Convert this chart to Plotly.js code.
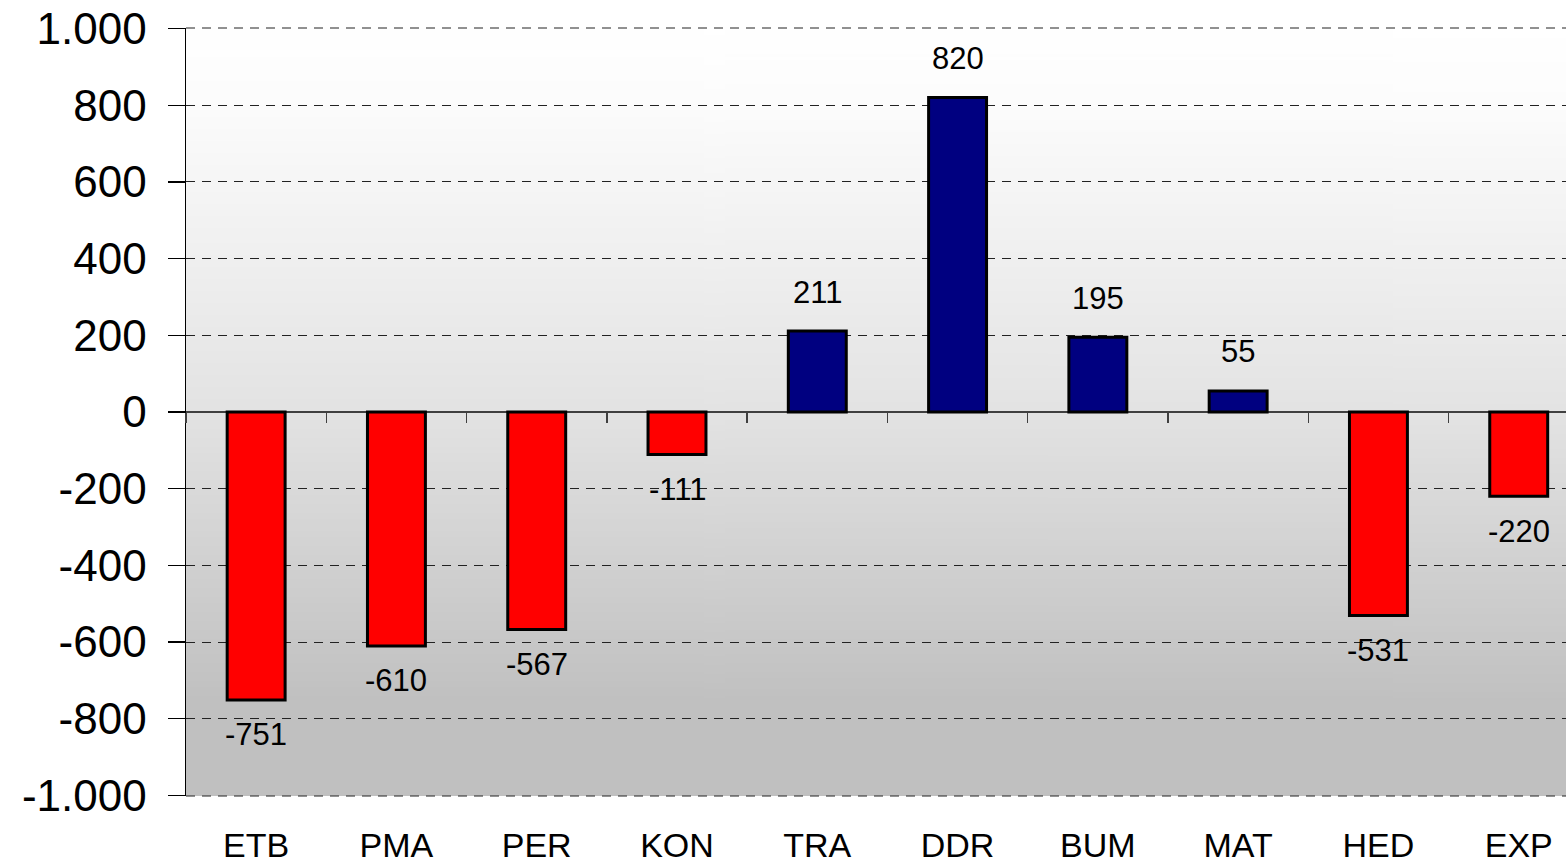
<!DOCTYPE html>
<html>
<head>
<meta charset="utf-8">
<script src="https://cdn.plot.ly/plotly-3.0.1.min.js"></script>
<style>
html,body{margin:0;padding:0;background:#fff;overflow:hidden;}
#chart{width:1566px;height:864px;}
</style>
</head>
<body>
<div id="chart"></div>
<script>
var categories = ['ETB','PMA','PER','KON','TRA','DDR','BUM','MAT','HED','EXP'];
var values = [-751, -610, -567, -111, 211, 820, 195, 55, -531, -220];
var yTickVals = [-1000, -800, -600, -400, -200, 0, 200, 400, 600, 800, 1000];
var yTickText = ['-1.000', '-800', '-600', '-400', '-200', '0', '200', '400', '600', '800', '1.000'];

var FONT = 'Liberation Sans, Arial, sans-serif';

// background gradient image
var cv = document.createElement('canvas');
cv.width = 4; cv.height = 512;
var ctx = cv.getContext('2d');
var g = ctx.createLinearGradient(0, 0, 0, 512);
g.addColorStop(0, '#ffffff');
g.addColorStop(0.1, '#fcfcfc');
g.addColorStop(0.5, '#e3e3e3');
g.addColorStop(0.88, '#c0c0c0');
g.addColorStop(1, '#c0c0c0');
ctx.fillStyle = g;
ctx.fillRect(0, 0, 4, 512);
var bgURL = cv.toDataURL();

var colors = values.map(function (v) { return v < 0 ? '#ff0000' : '#000080'; });

var bars = {
  type: 'bar',
  x: categories,
  y: values,
  marker: { color: colors, line: { color: '#000000', width: 3 } },
  hoverinfo: 'x+y',
  showlegend: false
};

var tickHelper = {
  type: 'scatter',
  mode: 'markers',
  x: categories,
  y: categories.map(function () { return null; }),
  xaxis: 'x2',
  yaxis: 'y',
  hoverinfo: 'skip',
  showlegend: false
};

var annotations = categories.map(function (c, i) {
  var v = values[i];
  return {
    x: c, y: v, xref: 'x', yref: 'y',
    text: String(v),
    showarrow: false,
    xanchor: 'center', yanchor: 'middle',
    yshift: v >= 0 ? 39 : -35,
    font: { family: FONT, size: 31, color: '#000000' }
  };
});

// dashed border gridlines at the top and bottom edges of the plot area
var edgeLines = [0, 1].map(function (p) {
  return {
    type: 'line', xref: 'paper', yref: 'paper',
    x0: 0, x1: 1, y0: p, y1: p,
    line: { color: '#222222', width: 1, dash: '9px,7px' },
    layer: 'above'
  };
});

var layout = {
  width: 1566,
  height: 864,
  margin: { l: 186, r: 0, t: 28, b: 68, pad: 0 },
  paper_bgcolor: '#ffffff',
  plot_bgcolor: 'rgba(0,0,0,0)',
  bargap: 0.587,
  showlegend: false,
  font: { family: FONT, color: '#000000' },
  images: [{
    source: bgURL, xref: 'paper', yref: 'paper',
    x: 0, y: 1, sizex: 1, sizey: 1, sizing: 'stretch',
    xanchor: 'left', yanchor: 'top', layer: 'below'
  }],
  shapes: edgeLines,
  xaxis: {
    type: 'category',
    categoryorder: 'array',
    categoryarray: categories,
    range: [-0.5, 9.337],
    showgrid: false,
    zeroline: false,
    showline: false,
    ticks: '',
    tickfont: { family: FONT, size: 34, color: '#000000' },
    ticklabelstandoff: 26,
    fixedrange: true
  },
  xaxis2: {
    type: 'category',
    overlaying: 'x',
    matches: 'x',
    anchor: 'free',
    position: 0.5,
    side: 'bottom',
    showgrid: false,
    zeroline: false,
    showline: false,
    showticklabels: false,
    ticks: 'outside',
    tickson: 'boundaries',
    ticklen: 10,
    tickwidth: 1.5,
    tickcolor: '#404040'
  },
  yaxis: {
    range: [-1001.5, 1001.5],
    tickmode: 'array',
    tickvals: yTickVals,
    ticktext: yTickText,
    tickfont: { family: FONT, size: 44, color: '#000000' },
    ticks: 'outside',
    ticklen: 17,
    tickwidth: 1.5,
    tickcolor: '#000000',
    ticklabelstandoff: 12,
    showline: true,
    linecolor: '#000000',
    linewidth: 1.5,
    showgrid: true,
    gridcolor: '#222222',
    gridwidth: 1,
    griddash: '9px,7px',
    zeroline: true,
    zerolinecolor: '#404040',
    zerolinewidth: 1.5,
    automargin: false,
    fixedrange: true
  },
  annotations: annotations
};

Plotly.newPlot('chart', [bars, tickHelper], layout, { displayModeBar: false, staticPlot: true });
</script>
</body>
</html>
